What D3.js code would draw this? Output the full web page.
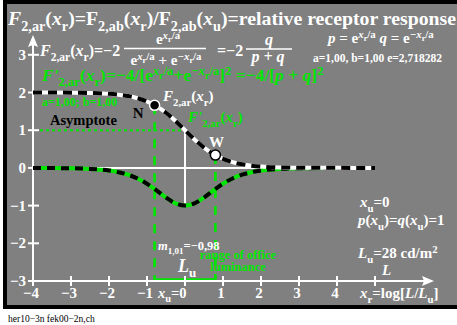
<!DOCTYPE html>
<html>
<head>
<meta charset="utf-8">
<script src="https://cdn.jsdelivr.net/npm/d3@7"></script>
<style>
  body { margin: 0; background: #fff; }
  svg text { font-family: "Liberation Serif", "DejaVu Serif", serif; font-weight: bold; }
</style>
</head>
<body>
<svg id="chart" width="457" height="325"></svg>
<script>
// data
const xTicks = [-4, -3, -2, -1, 0, 1, 2, 3, 4, 5];
const xTickLabels = ["\u22124", "\u22123", "\u22122", "\u22121", "", "1", "2", "3", "4", ""];
const yTicks = [-3, -2, -1, 0, 1, 2, 3];
const yTickLabels = ["\u22123", "\u22122", "\u22121", "0", "1", "2", "3"];

// sample points of the two curves
const xs = [-4, -3, -2.5, -2, -1.75, -1.5, -1.25, -1, -0.75, -0.5, -0.25, 0,
            0.25, 0.5, 0.75, 1, 1.25, 1.5, 1.75, 2, 2.5, 3, 4, 5];
const fValues = [2.0, 1.995, 1.987, 1.964, 1.941, 1.905, 1.848, 1.762, 1.635, 1.462, 1.245, 1.0,
                 0.755, 0.538, 0.365, 0.238, 0.152, 0.095, 0.059, 0.036, 0.013, 0.005, 0.001, 0.0];
const dValues = [-0.001, -0.01, -0.027, -0.071, -0.114, -0.181, -0.28, -0.42, -0.597, -0.786, -0.94, -1.0,
                 -0.94, -0.786, -0.597, -0.42, -0.28, -0.181, -0.114, -0.071, -0.027, -0.01, -0.001, 0.0];

// marked points N and W
const markX = [-0.8, 0.8];
const markY = [1.66, 0.34];
const markNames = ["N", "W"];

const green = "#00e600";
const svg = d3.select("#chart");

// frame
svg.append("rect").attr("x", 3).attr("y", 0).attr("width", 460).attr("height", 309).attr("fill", "#000");
svg.append("rect").attr("x", 7).attr("y", 4).attr("width", 455).attr("height", 301).attr("fill", "#808080");

const x = d3.scaleLinear().domain([-4, 5]).range([33, 375]);
const y = d3.scaleLinear().domain([-3, 3]).range([281, 54.8]);

// rich text helper: parts are [text, style]; style: i italic, _ sub, ^ sup, ^_ sub inside sup
function rich(x0, y0, parts, size, fill, anchor) {
  const t = svg.append("text").attr("x", x0).attr("y", y0)
    .attr("font-size", size).attr("fill", fill).attr("text-anchor", anchor || "start");
  let cur = 0;
  parts.forEach(([txt, st]) => {
    let off = 0, fs = size;
    if (st.includes("^_")) { off = -size * 0.12; fs = size * 0.55; }
    else if (st.includes("_")) { off = size * 0.3; fs = size * 0.72; }
    else if (st.includes("^")) { off = -size * 0.35; fs = size * 0.72; }
    const ts = t.append("tspan").attr("dy", off - cur).attr("font-size", fs).text(txt);
    if (st.includes("i")) ts.attr("font-style", "italic");
    cur = off;
  });
  return t;
}
// exponent e^{±x_r/a}
const expo = (sign) => [["e", ""], [sign + "x", "i^"], ["r", "^_"], ["/a", "^"]];

// helper lines
svg.append("line").attr("x1", x(-4)).attr("x2", x(5)).attr("y1", y(0)).attr("y2", y(0))
  .attr("stroke", "#fff").attr("stroke-width", 2);
svg.append("line").attr("x1", x(0)).attr("x2", x(0)).attr("y1", y(1)).attr("y2", y(-1))
  .attr("stroke", "#fff").attr("stroke-width", 2);
svg.append("line").attr("x1", 40).attr("x2", x(0)).attr("y1", y(1)).attr("y2", y(1))
  .attr("stroke", green).attr("stroke-width", 2).attr("stroke-dasharray", "3,3");

// vertical dashed lines at N and W
markX.forEach((mx, i) => {
  svg.append("line").attr("x1", x(mx)).attr("x2", x(mx)).attr("y1", y(markY[i])).attr("y2", y(-3))
    .attr("stroke", green).attr("stroke-width", 2.7).attr("stroke-dasharray", "9,8");
});
// range of office luminance
svg.append("line").attr("x1", x(markX[0])).attr("x2", x(markX[1])).attr("y1", y(-3) - 1).attr("y2", y(-3) - 1)
  .attr("stroke", green).attr("stroke-width", 3.5);

// axes
const axisG = svg.append("g").attr("stroke", "#fff").attr("stroke-width", 2);
axisG.append("line").attr("x1", x(-4)).attr("x2", 430).attr("y1", y(-3)).attr("y2", y(-3));
axisG.append("line").attr("x1", x(-4)).attr("x2", x(-4)).attr("y1", y(-3)).attr("y2", 40);
svg.append("path").attr("d", `M434,${y(-3)} L422,${y(-3) - 5} L424,${y(-3)} L422,${y(-3) + 5} Z`).attr("fill", "#fff");
svg.append("path").attr("d", `M${x(-4)},35 L${x(-4) - 5},47 L${x(-4)},45 L${x(-4) + 5},47 Z`).attr("fill", "#fff");

axisG.selectAll(".xt").data(xTicks).enter().append("line")
  .attr("x1", d => x(d)).attr("x2", d => x(d)).attr("y1", y(-3) - 5).attr("y2", y(-3) + 5);
axisG.selectAll(".yt").data(yTicks).enter().append("line")
  .attr("x1", x(-4) - 5).attr("x2", x(-4) + 6).attr("y1", d => y(d)).attr("y2", d => y(d));

svg.selectAll(".xl").data(xTicks).enter().append("text")
  .attr("x", d => x(d) - 2).attr("y", 298).attr("text-anchor", "middle")
  .attr("font-size", 15).attr("fill", "#fff").text((d, i) => xTickLabels[i]);
svg.selectAll(".yl").data(yTicks).enter().append("text")
  .attr("x", 26).attr("y", d => y(d) + 5).attr("text-anchor", "end")
  .attr("font-size", 15).attr("fill", "#fff").text((d, i) => yTickLabels[i]);

// curves
const line = d3.line().x(d => x(d[0])).y(d => y(d[1])).curve(d3.curveMonotoneX);
const fPts = xs.map((v, i) => [v, fValues[i]]);
const dPts = xs.map((v, i) => [v, dValues[i]]);
svg.append("path").attr("d", line(dPts)).attr("fill", "none").attr("stroke", green).attr("stroke-width", 4);
svg.append("path").attr("d", line(dPts)).attr("fill", "none").attr("stroke", "#000").attr("stroke-width", 4)
  .attr("stroke-dasharray", "8,6");
svg.append("path").attr("d", line(fPts)).attr("fill", "none").attr("stroke", "#fff").attr("stroke-width", 4);
svg.append("path").attr("d", line(fPts)).attr("fill", "none").attr("stroke", "#000").attr("stroke-width", 4)
  .attr("stroke-dasharray", "9,6");

// markers
svg.selectAll(".mk").data(markX).enter().append("circle")
  .attr("cx", d => x(d)).attr("cy", (d, i) => y(markY[i])).attr("r", 5)
  .attr("fill", (d, i) => i === 0 ? "#000" : "#fff").attr("stroke", (d, i) => i === 0 ? "#fff" : "#000")
  .attr("stroke-width", 1.5);
svg.append("text").attr("x", x(markX[0]) - 11).attr("y", y(markY[0]) + 13).attr("text-anchor", "end")
  .attr("font-size", 15).attr("fill", "#000").text(markNames[0]);
svg.append("text").attr("x", x(markX[1]) + 1).attr("y", y(markY[1]) - 8).attr("text-anchor", "middle")
  .attr("font-size", 15).attr("fill", "#fff").text(markNames[1]);

// title
rich(8, 25, [["F", "i"], ["2,ar", "_"], ["(", ""], ["x", "i"], ["r", "_"], [")=F", ""], ["2,ab", "_"],
  ["(", ""], ["x", "i"], ["r", "_"], [")/F", ""], ["2,ab", "_"], ["(", ""], ["x", "i"], ["u", "_"],
  [")=relative receptor response", ""]], 19.8, "#fff");

// formula line
rich(40, 56, [["F", "i"], ["2,ar", "_"], ["(", ""], ["x", "i"], ["r", "_"], [")=\u22122", ""]], 16, "#fff");
rich(168, 44, expo(""), 15, "#fff", "middle");
svg.append("line").attr("x1", 124).attr("x2", 206).attr("y1", 48.5).attr("y2", 48.5).attr("stroke", "#fff").attr("stroke-width", 1.5);
rich(166, 65, [...expo(""), [" + ", ""], ...expo("\u2212")], 15, "#fff", "middle");
rich(217, 56, [["=\u22122", ""]], 16, "#fff");
rich(269, 45, [["q", "i"]], 16, "#fff", "middle");
svg.append("line").attr("x1", 246).attr("x2", 292).attr("y1", 49).attr("y2", 49).attr("stroke", "#fff").attr("stroke-width", 1.5);
rich(268, 62, [["p + q", "i"]], 16, "#fff", "middle");

rich(328, 43, [["p", "i"], [" = ", ""], ...expo(""), ["   ", ""], ["q", "i"], [" = ", ""], ...expo("\u2212")], 15, "#fff");
rich(313, 62, [["a=1,00, b=1,00 e=2,718282", ""]], 11.5, "#fff");

// derivative line
rich(42, 81, [["F'", "i"], ["2,ar", "_"], ["(", ""], ["x", "i"], ["r", "_"], [")=\u22124/[", ""], ...expo(""),
  ["+", ""], ...expo("\u2212"), ["]", ""], ["2", "^"], [" =\u22124/[", ""],
  ["p + q", "i"], ["]", ""], ["2", "^"]], 17.5, green);

rich(42, 106, [["a=1,00; b=1,00", ""]], 12, green);
rich(50, 125, [["Asymptote", ""]], 14.5, "#000");

// curve labels
rich(163, 101, [["F", "i"], ["2,ar", "_"], ["(", ""], ["x", "i"], ["r", "_"], [")", ""]], 15, "#fff");
rich(188, 122, [["F'", "i"], ["2,ar", "_"], ["(", ""], ["x", "i"], ["r", "_"], [")", ""]], 15, green);

// bottom annotations
rich(158, 250, [["m", "i"], ["1,01", "_"], ["=\u22120,98", ""]], 12.5, "#fff");
rich(178, 272, [["L", "i"], ["u", "_"]], 18, "#fff");
rich(238, 259, [["range of office", ""]], 12.5, green, "middle");
rich(238, 271, [["luminance", ""]], 12.5, green, "middle");

rich(158, 298, [["x", "i"], ["u", "_"], ["=0", ""]], 14.5, "#fff");
rich(360, 298, [["x", "i"], ["r", "_"], ["=log[", ""], ["L", "i"], ["/", ""], ["L", "i"], ["u", "_"], ["]", ""]], 15, "#fff");
rich(382, 275, [["L", "i"]], 15, "#fff");

rich(360, 207, [["x", "i"], ["u", "_"], ["=0", ""]], 15, "#fff");
rich(358, 225, [["p", "i"], ["(", ""], ["x", "i"], ["u", "_"], [")=", ""], ["q", "i"], ["(", ""], ["x", "i"], ["u", "_"], [")=1", ""]], 15, "#fff");
rich(358, 258, [["L", "i"], ["u", "_"], ["=28 cd/m", ""], ["2", "^"]], 15, "#fff");

svg.append("text").attr("x", 8).attr("y", 322).attr("font-size", 9.5).style("font-weight", "normal")
  .attr("fill", "#000").text("her10\u22123n fek00\u22122n,ch");
</script>
</body>
</html>
